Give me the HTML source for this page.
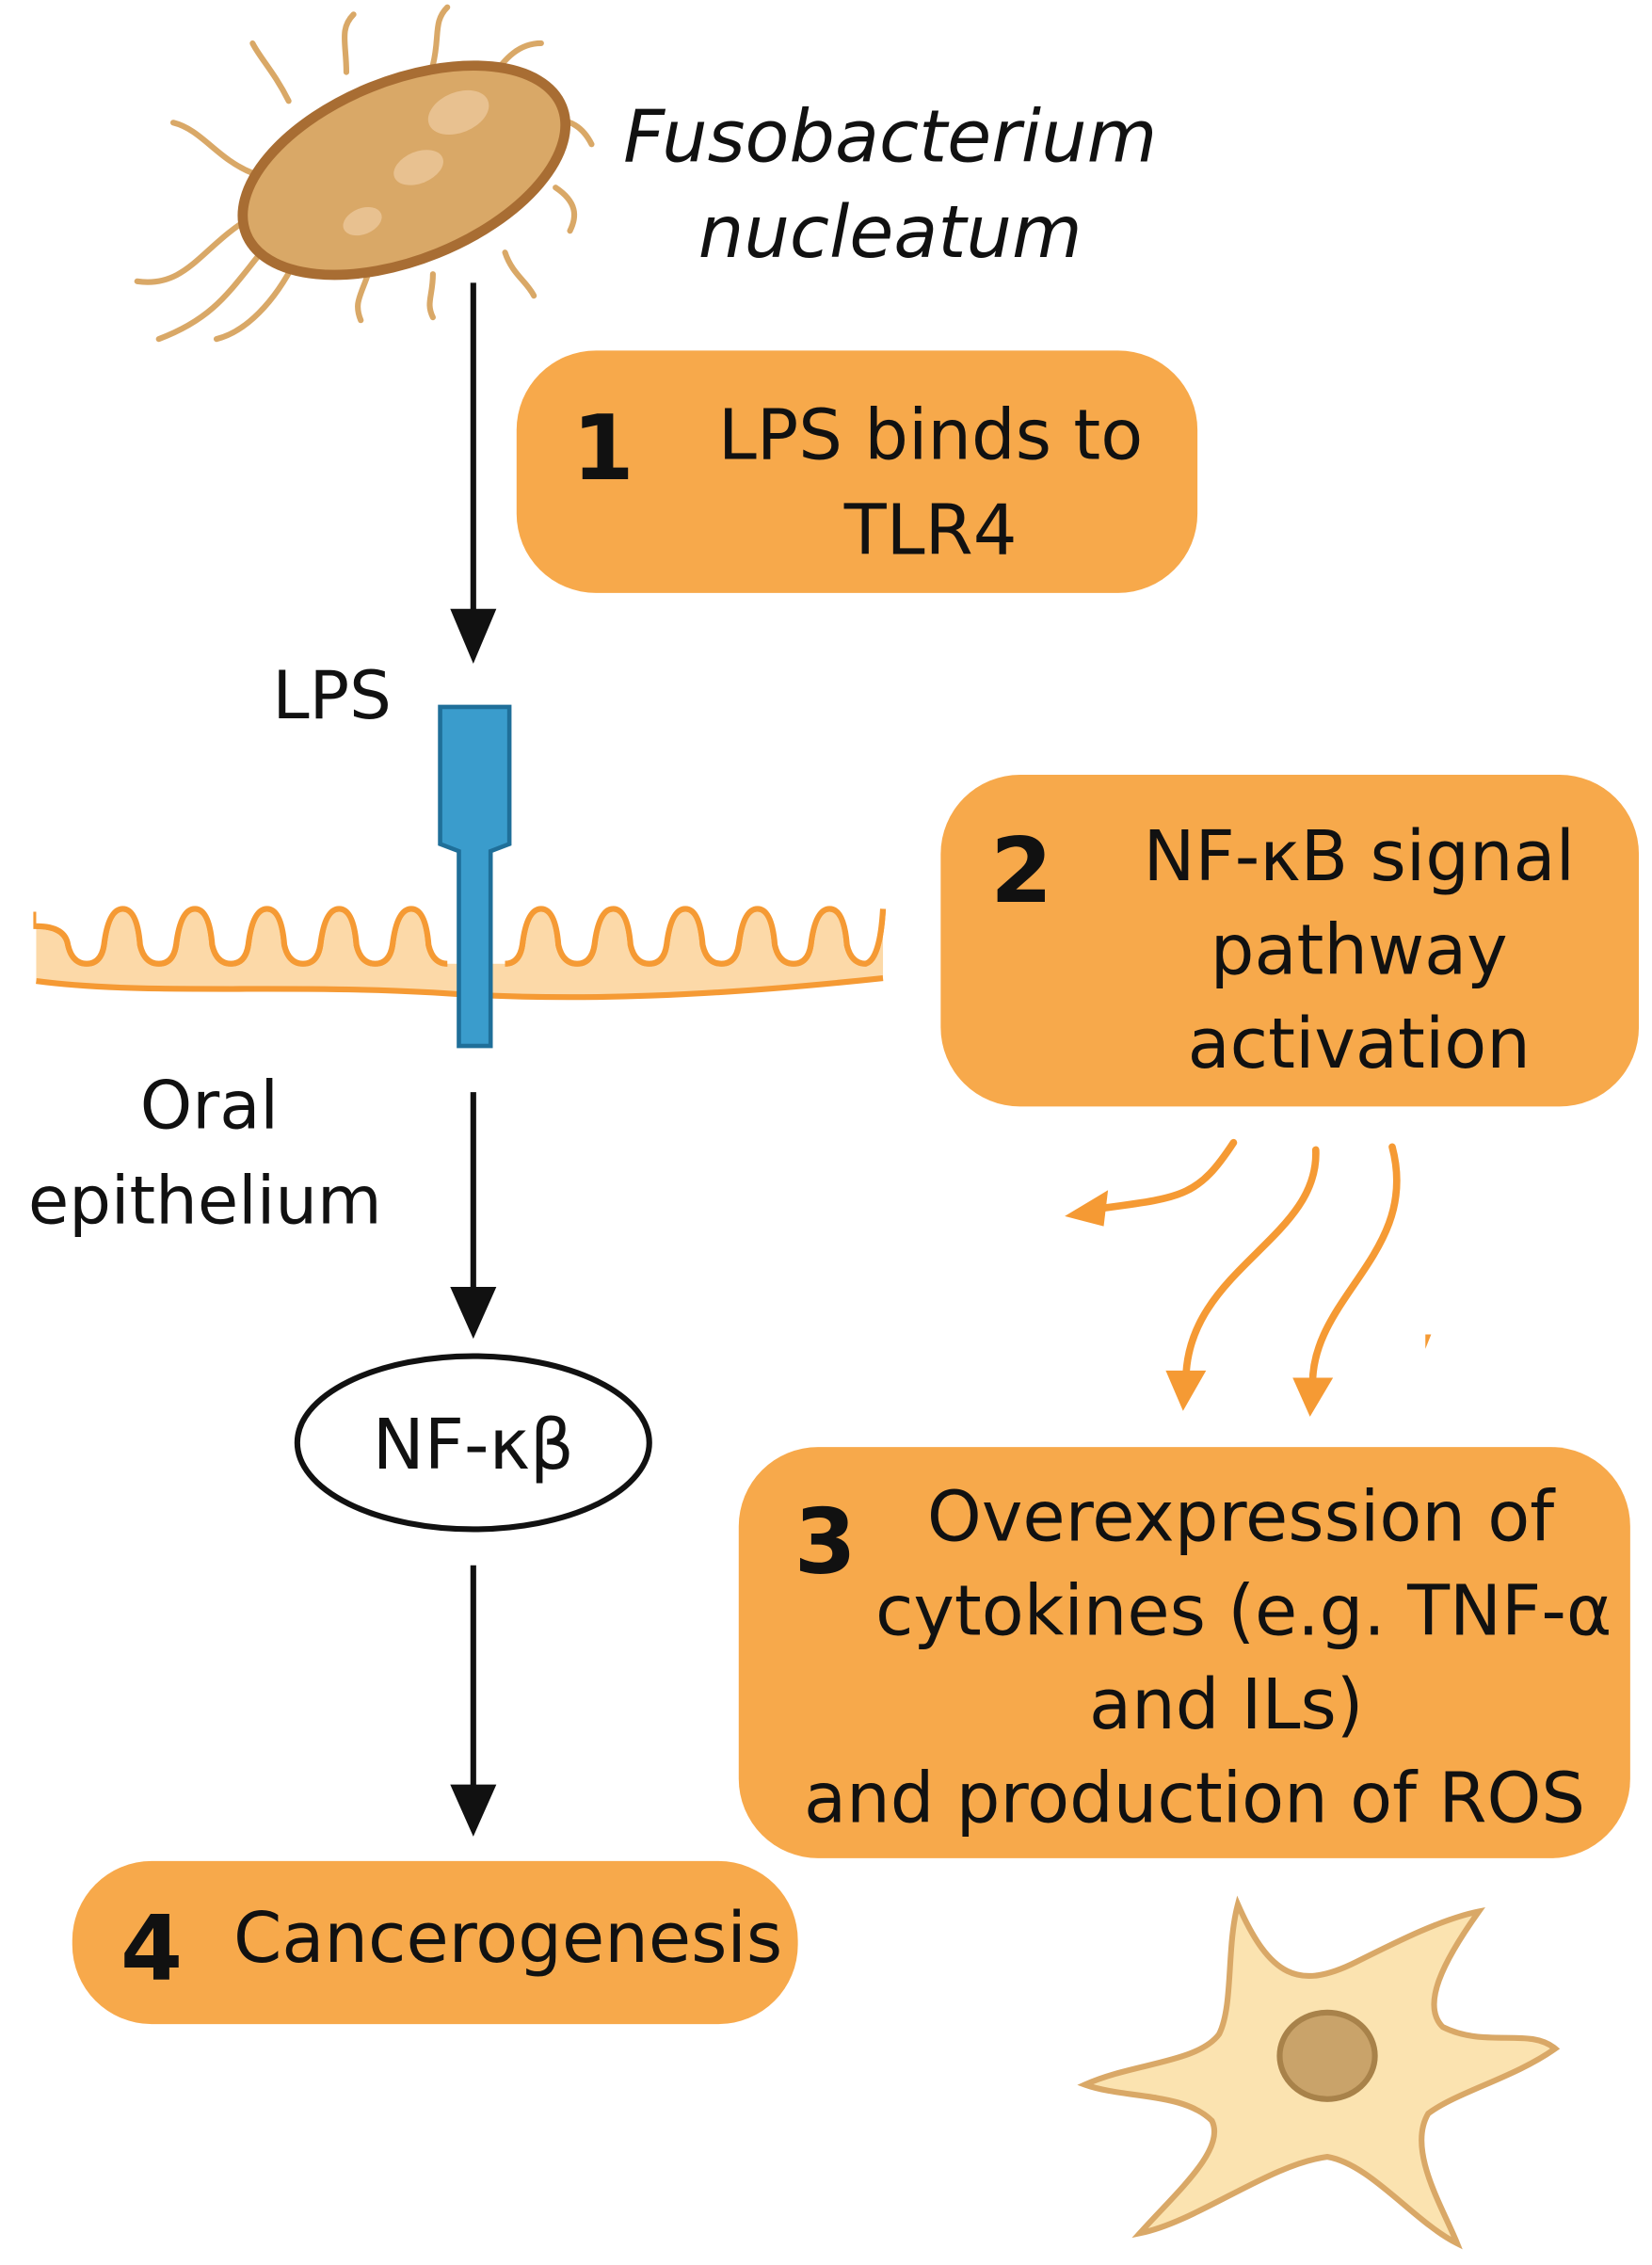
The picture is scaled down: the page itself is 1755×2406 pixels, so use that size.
<!DOCTYPE html>
<html><head><meta charset="utf-8"><style>
html,body{margin:0;padding:0;background:#fff;}
svg{display:block;}
text{font-family:"DejaVu Sans","Liberation Sans",sans-serif;fill:#111;}
</style></head><body>
<svg width="1755" height="2406" viewBox="0 0 1145 1570" xmlns="http://www.w3.org/2000/svg">
<rect width="1145" height="1570" fill="#fff"/>
<g stroke="#d9a867" stroke-width="4" fill="none" stroke-linecap="round">
<path d="M175,150 C140,170 130,200 95,195"/>
<path d="M185,170 C160,200 150,220 110,235"/>
<path d="M205,180 C190,210 170,230 150,235"/>
<path d="M175,120 C150,110 140,90 120,85"/>
<path d="M200,70 C190,50 180,40 175,30"/>
<path d="M240,50 C240,30 235,20 245,10"/>
<path d="M300,45 C305,25 300,15 310,5"/>
<path d="M340,55 C350,40 360,30 375,30"/>
<path d="M380,85 C395,80 405,90 410,100"/>
<path d="M385,130 C400,140 400,150 395,160"/>
<path d="M350,175 C355,190 365,195 370,205"/>
<path d="M300,190 C300,205 295,210 300,220"/>
<path d="M255,190 C250,205 245,210 250,222"/>
</g>
<g transform="rotate(-22 280 118)">
<ellipse cx="280" cy="118" rx="118" ry="62" fill="#d9a867" stroke="#a86d33" stroke-width="7"/>
<ellipse cx="330" cy="95" rx="22" ry="14" fill="#e8c190"/>
<ellipse cx="290" cy="120" rx="18" ry="11" fill="#e8c190"/>
<ellipse cx="240" cy="140" rx="14" ry="9" fill="#e8c190"/>
</g>
<text x="617" y="112" font-size="50" font-style="italic" text-anchor="middle">Fusobacterium</text>
<text x="617" y="178" font-size="50" font-style="italic" text-anchor="middle">nucleatum</text>
<g stroke="#111" stroke-width="4">
<line x1="328" y1="196" x2="328" y2="425"/>
<line x1="328" y1="757" x2="328" y2="895"/>
<line x1="328" y1="1085" x2="328" y2="1240"/>
</g>
<g fill="#111">
<path d="M312,422 L344,422 L328,460 Z"/>
<path d="M312,892 L344,892 L328,928 Z"/>
<path d="M312,1237 L344,1237 L328,1273 Z"/>
</g>
<rect x="358" y="243" width="472" height="168" rx="55" fill="#f7a94b"/>
<text x="418" y="332" font-size="62" font-weight="bold" text-anchor="middle">1</text>
<text x="645" y="318" font-size="48" text-anchor="middle">LPS binds to</text>
<text x="645" y="384" font-size="48" text-anchor="middle">TLR4</text>
<text x="230" y="498" font-size="46" text-anchor="middle">LPS</text>
<!-- membrane -->
<path d="M25,632 L612,632 L612,678 C500,690 400,695 300,688 C200,682 100,690 25,680 Z" fill="#fcd9a8"/>
<path d="M25,680 C100,690 200,682 300,688 C400,695 500,690 612,678" stroke="#f59a34" stroke-width="4" fill="none"/>
<path id="vil" d="M25,632 L25,642 Q45,642 47,655 Q50,668 60,668 Q70,668 72,655 Q75,630 85,630 Q95,630 97,655 Q100,668 110,668 Q120,668 122,655 Q125,630 135,630 Q145,630 147,655 Q150,668 160,668 Q170,668 172,655 Q175,630 185,630 Q195,630 197,655 Q200,668 210,668 Q220,668 222,655 Q225,630 235,630 Q245,630 247,655 Q250,668 260,668 Q270,668 272,655 Q275,630 285,630 Q295,630 297,655 Q300,668 310,668 M350,668 Q360,668 362,655 Q365,630 375,630 Q385,630 387,655 Q390,668 400,668 Q410,668 412,655 Q415,630 425,630 Q435,630 437,655 Q440,668 450,668 Q460,668 462,655 Q465,630 475,630 Q485,630 487,655 Q490,668 500,668 Q510,668 512,655 Q515,630 525,630 Q535,630 537,655 Q540,668 550,668 Q560,668 562,655 Q565,630 575,630 Q585,630 587,655 Q590,668 600,668 Q610,665 612,630" stroke="#f59a34" stroke-width="4" fill="#fff" fill-opacity="0"/>
<path d="M25,632 L25,642 Q45,642 47,655 Q50,668 60,668 Q70,668 72,655 Q75,630 85,630 Q95,630 97,655 Q100,668 110,668 Q120,668 122,655 Q125,630 135,630 Q145,630 147,655 Q150,668 160,668 Q170,668 172,655 Q175,630 185,630 Q195,630 197,655 Q200,668 210,668 Q220,668 222,655 Q225,630 235,630 Q245,630 247,655 Q250,668 260,668 Q270,668 272,655 Q275,630 285,630 Q295,630 297,655 Q300,668 310,668 L350,668 Q360,668 362,655 Q365,630 375,630 Q385,630 387,655 Q390,668 400,668 Q410,668 412,655 Q415,630 425,630 Q435,630 437,655 Q440,668 450,668 Q460,668 462,655 Q465,630 475,630 Q485,630 487,655 Q490,668 500,668 Q510,668 512,655 Q515,630 525,630 Q535,630 537,655 Q540,668 550,668 Q560,668 562,655 Q565,630 575,630 Q585,630 587,655 Q590,668 600,668 Q610,665 612,630 L612,625 L25,625 Z" fill="#fff"/>
<path d="M25,642 Q45,642 47,655 Q50,668 60,668 Q70,668 72,655 Q75,630 85,630 Q95,630 97,655 Q100,668 110,668 Q120,668 122,655 Q125,630 135,630 Q145,630 147,655 Q150,668 160,668 Q170,668 172,655 Q175,630 185,630 Q195,630 197,655 Q200,668 210,668 Q220,668 222,655 Q225,630 235,630 Q245,630 247,655 Q250,668 260,668 Q270,668 272,655 Q275,630 285,630 Q295,630 297,655 Q300,668 310,668 M350,668 Q360,668 362,655 Q365,630 375,630 Q385,630 387,655 Q390,668 400,668 Q410,668 412,655 Q415,630 425,630 Q435,630 437,655 Q440,668 450,668 Q460,668 462,655 Q465,630 475,630 Q485,630 487,655 Q490,668 500,668 Q510,668 512,655 Q515,630 525,630 Q535,630 537,655 Q540,668 550,668 Q560,668 562,655 Q565,630 575,630 Q585,630 587,655 Q590,668 600,668 Q610,665 612,630" stroke="#f59a34" stroke-width="4" fill="none"/>
<path d="M305,490 L353,490 L353,585 L340,590 L340,725 L318,725 L318,590 L305,585 Z" fill="#3a9ccc" stroke="#1f6f99" stroke-width="3"/>
<text x="145" y="782" font-size="46" text-anchor="middle">Oral</text>
<text x="142" y="848" font-size="46" text-anchor="middle">epithelium</text>
<ellipse cx="328" cy="1000" rx="122" ry="60" fill="#fff" stroke="#111" stroke-width="4"/>
<text x="328" y="1018" font-size="48" text-anchor="middle">NF-κβ</text>
<rect x="652" y="537" width="484" height="230" rx="55" fill="#f7a94b"/>
<text x="708" y="625" font-size="62" font-weight="bold" text-anchor="middle">2</text>
<text x="942" y="610" font-size="48" text-anchor="middle">NF-κB signal</text>
<text x="942" y="675" font-size="48" text-anchor="middle">pathway</text>
<text x="942" y="740" font-size="48" text-anchor="middle">activation</text>
<g stroke="#f59a34" stroke-width="5" fill="none" stroke-linecap="round">
<path d="M855,792 C830,830 820,830 760,838"/>
<path d="M912,797 C915,860 820,880 822,960"/>
<path d="M965,795 C985,870 905,900 910,965"/>
</g>
<g fill="#f59a34">
<path d="M738,843 L768,825 L765,850 Z"/>
<path d="M808,950 L836,950 L820,978 Z"/>
<path d="M896,955 L924,955 L908,982 Z"/>
<path d="M988,925 L992,925 L988,935 Z"/>
</g>
<rect x="512" y="1003" width="618" height="285" rx="55" fill="#f7a94b"/>
<text x="572" y="1090" font-size="62" font-weight="bold" text-anchor="middle">3</text>
<text x="860" y="1068" font-size="48" text-anchor="middle">Overexpression of</text>
<text x="862" y="1133" font-size="48" text-anchor="middle">cytokines (e.g. TNF-α</text>
<text x="850" y="1198" font-size="48" text-anchor="middle">and ILs)</text>
<text x="828" y="1263" font-size="48" text-anchor="middle">and production of ROS</text>
<rect x="50" y="1290" width="503" height="113" rx="55" fill="#f7a94b"/>
<text x="105" y="1372" font-size="62" font-weight="bold" text-anchor="middle">4</text>
<text x="352" y="1360" font-size="48" text-anchor="middle">Cancerogenesis</text>
<path d="M858,1320 C880,1370 900,1380 940,1360 C970,1345 1000,1330 1025,1325 C1000,1360 985,1390 1000,1405 C1030,1420 1060,1405 1078,1420 C1050,1440 1010,1450 990,1465 C975,1490 1000,1530 1010,1555 C980,1540 950,1500 920,1495 C880,1500 830,1540 790,1548 C815,1520 850,1490 840,1470 C820,1450 780,1455 752,1445 C785,1430 830,1430 845,1410 C855,1390 850,1350 858,1320 Z" fill="#fbe3b0" stroke="#d9a867" stroke-width="4"/>
<ellipse cx="920" cy="1425" rx="33" ry="30" fill="#c9a36a" stroke="#a8824a" stroke-width="4"/>
</svg>
</body></html>
